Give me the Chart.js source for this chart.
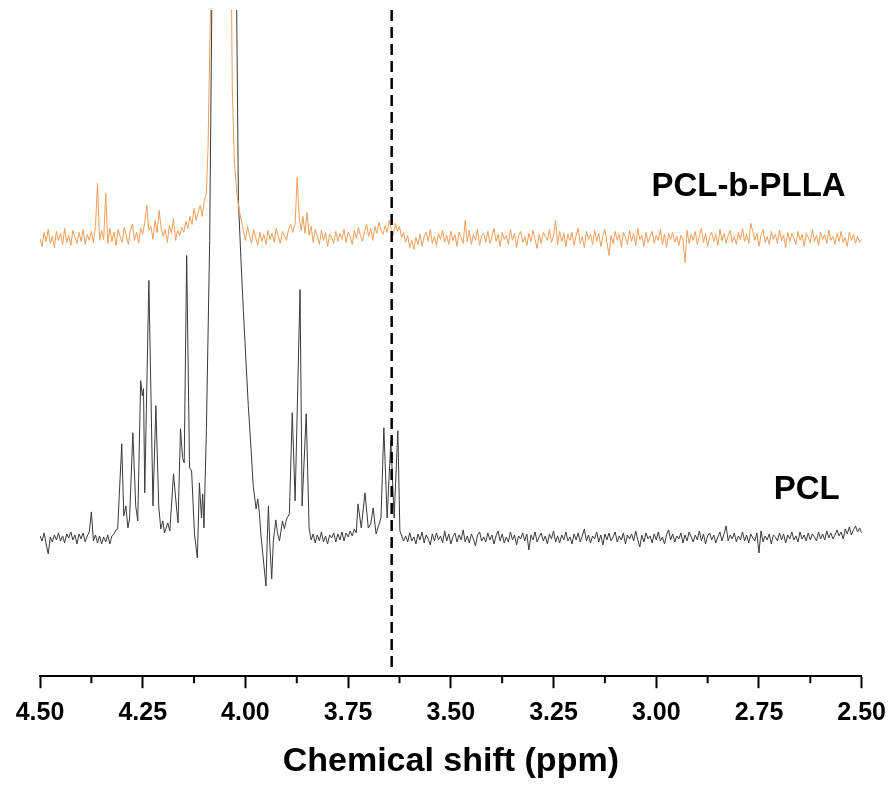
<!DOCTYPE html>
<html>
<head>
<meta charset="utf-8">
<script src="https://cdn.jsdelivr.net/npm/chart.js@4.4.1/dist/chart.umd.min.js"></script>
<style>
  html, body { margin: 0; padding: 0; background: #fff; }
  #wrap { width: 896px; height: 785px; }
</style>
</head>
<body>
<div id="wrap"><canvas id="nmrChart" width="896" height="785"></canvas></div>
<script>
// series names
var seriesNames = ["PCL", "PCL-b-PLLA"];

// x axis ticks (ppm)
var shiftTicks = [4.50, 4.25, 4.00, 3.75, 3.50, 3.25, 3.00, 2.75, 2.50];

// dashed marker position (ppm)
var markerShift = 3.644;

// PCL: 4.50 -> 3.615 ppm (peak region, irregular sampling)
var pclHeadShift = [
  4.500,4.495,4.490,4.485,4.480,4.475,4.470,4.465,4.460,4.455,
  4.450,4.445,4.440,4.435,4.430,4.425,4.420,4.415,4.410,4.405,
  4.400,4.395,4.390,4.385,4.380,4.375,4.370,4.365,4.360,4.355,
  4.350,4.345,4.340,4.335,4.330,4.325,4.320,4.315,
  4.311,4.301,4.296,4.291,4.286,4.282,4.274,4.267,4.262,4.255,
  4.251,4.248,4.245,4.235,4.225,4.218,4.211,4.206,4.201,4.197,
  4.189,4.184,4.175,4.167,4.164,4.158,4.153,4.149,4.143,4.136,
  4.131,4.124,4.117,4.112,4.107,4.104,4.101,4.095,4.087,4.078,
  4.051,4.024,4.017,4.011,4.005,3.999,3.993,3.986,3.981,3.974,
  3.970,3.966,3.962,3.956,3.950,3.947,3.944,3.941,3.936,3.932,
  3.926,3.922,3.917,3.910,3.905,3.900,3.893,3.886,3.879,3.867,
  3.862,3.852,3.845,
  3.840,3.835,3.830,3.825,3.820,3.815,3.810,3.805,3.800,3.795,
  3.790,3.785,3.780,3.775,3.770,3.765,3.760,3.755,3.750,3.745,
  3.740,3.735,3.730,
  3.726,3.718,3.709,3.701,3.695,3.689,3.682,3.676,3.670,3.663,
  3.655,3.646,3.638,3.629,3.624,3.615
];
var pclHeadInt = [
  2,-3,5,-6,-16,1,-4,3,-2,5,
  -3,2,-5,4,0,6,-2,3,-6,4,
  -1,5,-4,2,6,26,-3,3,-5,2,
  -6,1,-4,3,-6,2,4,8,
  9,94,22,32,10,19,105,32,17,157,
  142,149,45,257,32,132,32,9,17,5,
  15,7,64,27,15,109,80,75,282,70,
  67,4,-20,55,20,44,10,107,297,700,
  3000,650,336,279,227,179,132,87,52,29,
  39,25,2,-23,-48,-3,32,-3,-41,-3,
  18,5,-3,17,9,19,24,125,37,248,
  32,124,10,
  -2,4,-5,3,-3,6,-4,2,-6,3,
  0,5,-4,4,-2,6,-3,5,1,7,
  2,9,5,
  34,10,45,10,14,30,4,12,20,110,
  20,97,20,107,7,-3
];

// PCL-b-PLLA: 4.50 -> 3.615 ppm
var plaHeadShift = [
  4.500,4.495,4.490,4.485,4.480,4.475,4.470,4.465,4.460,4.455,
  4.450,4.445,4.440,4.435,4.430,4.425,4.420,4.415,4.410,4.405,
  4.400,4.395,4.390,4.385,4.380,4.375,4.370,4.365,4.360,4.355,
  4.350,4.345,4.340,4.335,4.330,4.325,4.320,4.315,4.310,4.305,
  4.300,4.295,4.290,4.285,4.280,4.275,4.270,4.265,4.260,4.255,
  4.250,4.245,4.240,4.235,4.230,4.225,4.220,4.215,4.210,4.205,
  4.200,4.195,4.190,4.185,4.180,4.175,4.170,4.165,4.160,4.155,
  4.150,4.145,4.140,4.135,4.130,4.125,4.120,4.115,4.110,4.105,
  4.100,
  4.095,4.091,4.082,4.051,4.037,4.032,4.027,4.021,4.015,4.007,
  4.005,4.000,3.995,3.990,3.985,3.980,3.975,3.970,3.965,3.960,
  3.955,3.950,3.945,3.940,3.935,3.930,3.925,3.920,3.915,3.910,
  3.905,3.900,3.895,3.890,3.885,
  3.879,3.874,3.869,3.864,
  3.860,3.855,3.850,3.845,3.840,3.835,3.830,3.825,3.820,3.815,
  3.810,3.805,3.800,3.795,3.790,3.785,3.780,3.775,3.770,3.765,
  3.760,3.755,3.750,3.745,3.740,3.735,3.730,3.725,3.720,3.715,
  3.710,3.705,3.700,3.695,3.690,3.685,3.680,3.675,3.670,3.665,
  3.660,3.655,3.650,3.645,3.640,3.635,3.630,3.625,3.620,3.615
];
var plaHeadInt = [
  0,-8,6,-3,9,-5,2,-9,7,-2,
  5,-6,10,-4,3,-7,8,1,-5,6,
  -3,9,-6,4,-2,7,-4,12,55,-2,
  8,-1,45,-5,10,-3,6,-7,9,2,
  -4,11,3,-6,8,14,-2,6,-5,10,
  4,16,33,8,12,-1,18,6,28,10,
  2,9,-4,13,5,20,-2,8,3,11,
  6,17,10,22,14,30,18,26,33,22,
  38,
  45,90,300,3000,400,150,78,45,28,12,
  8,-2,12,3,-5,9,1,-7,6,-3,
  4,-6,8,-1,5,-4,10,2,-5,7,
  3,-2,9,14,6,
  15,61,20,8,
  22,5,26,3,12,-4,9,2,-6,8,
  -2,6,-8,4,1,-5,7,-3,5,-1,
  9,-4,6,2,-6,8,0,11,3,-3,
  7,14,2,10,-2,12,5,16,8,4,
  13,6,18,9,3,15,7,12,1,6
];

// shared sampling grid 3.61 -> 2.50 ppm (baseline region)
var tailShift = [
  3.610,3.605,3.600,3.595,3.590,3.585,3.580,3.575,3.570,3.565,
  3.560,3.555,3.550,3.545,3.540,3.535,3.530,3.525,3.520,3.515,
  3.510,3.505,3.500,3.495,3.490,3.485,3.480,3.475,3.470,3.465,
  3.460,3.455,3.450,3.445,3.440,3.435,3.430,3.425,3.420,3.415,
  3.410,3.405,3.400,3.395,3.390,3.385,3.380,3.375,3.370,3.365,
  3.360,3.355,3.350,3.345,3.340,3.335,3.330,3.325,3.320,3.315,
  3.310,3.305,3.300,3.295,3.290,3.285,3.280,3.275,3.270,3.265,
  3.260,3.255,3.250,3.245,3.240,3.235,3.230,3.225,3.220,3.215,
  3.210,3.205,3.200,3.195,3.190,3.185,3.180,3.175,3.170,3.165,
  3.160,3.155,3.150,3.145,3.140,3.135,3.130,3.125,3.120,3.115,
  3.110,3.105,3.100,3.095,3.090,3.085,3.080,3.075,3.070,3.065,
  3.060,3.055,3.050,3.045,3.040,3.035,3.030,3.025,3.020,3.015,
  3.010,3.005,3.000,2.995,2.990,2.985,2.980,2.975,2.970,2.965,
  2.960,2.955,2.950,2.945,2.940,2.935,2.930,2.925,2.920,2.915,
  2.910,2.905,2.900,2.895,2.890,2.885,2.880,2.875,2.870,2.865,
  2.860,2.855,2.850,2.845,2.840,2.835,2.830,2.825,2.820,2.815,
  2.810,2.805,2.800,2.795,2.790,2.785,2.780,2.775,2.770,2.765,
  2.760,2.755,2.750,2.745,2.740,2.735,2.730,2.725,2.720,2.715,
  2.710,2.705,2.700,2.695,2.690,2.685,2.680,2.675,2.670,2.665,
  2.660,2.655,2.650,2.645,2.640,2.635,2.630,2.625,2.620,2.615,
  2.610,2.605,2.600,2.595,2.590,2.585,2.580,2.575,2.570,2.565,
  2.560,2.555,2.550,2.545,2.540,2.535,2.530,2.525,2.520,2.515,
  2.510,2.505,2.500
];
var pclTailInt = [
  2,-4,5,-3,1,-6,4,-2,6,-5,
  3,-1,-7,4,-3,5,-2,2,-5,7,
  -3,4,-6,1,5,-4,3,-2,8,-4,
  2,-5,4,-1,-8,3,6,-3,1,-4,
  5,-2,3,-6,2,7,-3,4,-5,1,
  -4,6,-2,3,-7,2,-1,5,-3,4,
  -12,3,-2,6,-4,1,5,-3,2,-6,
  4,-1,7,-4,2,-5,3,-2,6,-3,
  1,-6,4,-2,5,-4,2,9,-3,3,
  -5,2,-1,6,-4,3,-7,4,-2,5,
  -3,1,6,-4,2,-2,5,-6,3,-1,
  4,-3,7,-2,-9,3,-4,5,-1,2,
  -5,4,-2,6,-3,1,-6,3,8,-2,
  4,-4,2,-1,5,-5,3,-3,6,1,
  -4,3,-2,7,-3,4,-6,2,5,-2,
  3,-5,1,6,-3,4,12,-3,3,-1,
  5,-4,2,-2,6,-3,3,-5,4,0,
  -3,5,-15,7,-4,2,-2,4,-6,3,
  1,-3,5,-2,4,-5,3,-1,6,-2,
  2,-4,6,-1,3,-3,5,-2,4,1,
  -3,6,-1,4,-2,7,0,5,-1,3,
  8,2,6,-1,9,4,11,3,8,12,
  6,10,5
];
var plaTailInt = [
  -4,3,-9,-2,-11,1,-6,4,-8,2,
  6,-3,9,-5,2,-7,5,-1,8,-4,
  3,-6,7,-2,4,-8,6,1,-5,18,
  -3,8,-6,4,-2,9,-7,3,5,-4,
  7,-5,2,10,-3,4,-8,6,-1,3,
  -6,9,-2,5,-9,3,7,-4,2,-7,
  5,-3,8,-1,-10,4,-5,6,2,-2,
  9,-4,3,18,-6,7,-3,5,-8,4,
  -2,6,-7,3,10,-5,2,-9,7,-1,
  4,-6,8,-3,5,-8,2,9,-4,-17,
  3,-5,7,-2,4,-9,6,1,-6,8,
  -3,5,-7,10,-1,3,-8,6,-4,2,
  7,-5,3,-2,9,-6,4,-9,5,-1,
  6,-4,2,-7,3,-1,-24,8,-5,4,
  -2,7,-6,3,10,-4,5,-8,2,6,
  -3,4,-7,9,-2,5,-5,3,8,-4,
  2,-6,6,-1,10,-3,4,-5,15,7,
  -2,5,-8,3,9,-4,2,-6,7,-1,
  4,-5,8,-2,3,-9,6,-3,5,0,
  -6,7,-2,4,-8,5,1,-4,9,-3,
  3,-7,6,-1,4,-5,8,-2,2,-6,
  5,-3,7,-4,1,-8,6,-2,4,-5,
  2,-4,-1
];

// vertical stacking of the two spectra (layout only)
var pclOffset = 138;
var plaOffset = 437;

function toPoints(shifts, ints, offset) {
    return shifts.map(function (s, i) {
        return { x: s, y: ints[i] + offset };
    });
}

var pclData = toPoints(pclHeadShift.concat(tailShift), pclHeadInt.concat(pclTailInt), pclOffset);
var plaData = toPoints(plaHeadShift.concat(tailShift), plaHeadInt.concat(plaTailInt), plaOffset);

var FONT = '"Liberation Sans", Arial, sans-serif';

var overlay = {
    id: "overlay",
    afterDatasetsDraw: function (chart) {
        var ctx = chart.ctx, area = chart.chartArea;
        var x = chart.scales.x.getPixelForValue(markerShift);
        ctx.save();
        ctx.strokeStyle = "#000";
        ctx.lineWidth = 2.5;
        ctx.setLineDash([11, 6]);
        ctx.beginPath();
        ctx.moveTo(x, area.top);
        ctx.lineTo(x, area.bottom - 8);
        ctx.stroke();
        ctx.restore();
    },
    afterDraw: function (chart) {
        var ctx = chart.ctx, area = chart.chartArea;
        var xs = chart.scales.x, ys = chart.scales.y;
        ctx.save();
        // minor ticks halfway between the labelled ones
        ctx.strokeStyle = "#000";
        ctx.lineWidth = 2;
        for (var i = 0; i < shiftTicks.length - 1; i++) {
            var px = xs.getPixelForValue((shiftTicks[i] + shiftTicks[i + 1]) / 2);
            ctx.beginPath();
            ctx.moveTo(px, area.bottom);
            ctx.lineTo(px, area.bottom + 7);
            ctx.stroke();
        }
        // spectrum labels
        ctx.fillStyle = "#000";
        ctx.font = "bold 33px " + FONT;
        ctx.textAlign = "right";
        ctx.textBaseline = "alphabetic";
        ctx.fillText(seriesNames[1], area.right - 16, ys.getPixelForValue(plaOffset + 42));
        ctx.fillText(seriesNames[0], area.right - 22, ys.getPixelForValue(pclOffset + 39));
        ctx.restore();
    }
};

new Chart(document.getElementById("nmrChart").getContext("2d"), {
    type: "line",
    data: {
        datasets: [
            {
                label: seriesNames[1],
                data: plaData,
                borderColor: "#F29D58",
                borderWidth: 1,
                pointRadius: 0,
                tension: 0
            },
            {
                label: seriesNames[0],
                data: pclData,
                borderColor: "#3a3a3a",
                borderWidth: 1,
                pointRadius: 0,
                tension: 0
            }
        ]
    },
    options: {
        responsive: false,
        animation: false,
        events: [],
        layout: { padding: { left: 40, right: 32, top: 10, bottom: 3 } },
        plugins: {
            legend: { display: false },
            tooltip: { enabled: false }
        },
        scales: {
            x: {
                type: "linear",
                reverse: true,
                min: 2.5,
                max: 4.5,
                afterBuildTicks: function (axis) {
                    axis.ticks = shiftTicks.map(function (v) { return { value: v }; });
                },
                ticks: {
                    color: "#000",
                    padding: 10,
                    maxRotation: 0,
                    font: { family: FONT, size: 25, weight: "bold" },
                    callback: function (v) { return Number(v).toFixed(2); }
                },
                grid: {
                    drawOnChartArea: false,
                    drawTicks: true,
                    tickLength: 12,
                    tickWidth: 2,
                    tickColor: "#000"
                },
                border: { display: true, color: "#000", width: 2 },
                title: {
                    display: true,
                    text: "Chemical shift (ppm)",
                    color: "#000",
                    font: { family: FONT, size: 34, weight: "bold" },
                    padding: { top: 3, bottom: 0 }
                }
            },
            y: {
                display: false,
                min: 0,
                max: 665
            }
        }
    },
    plugins: [overlay]
});
</script>
</body>
</html>
